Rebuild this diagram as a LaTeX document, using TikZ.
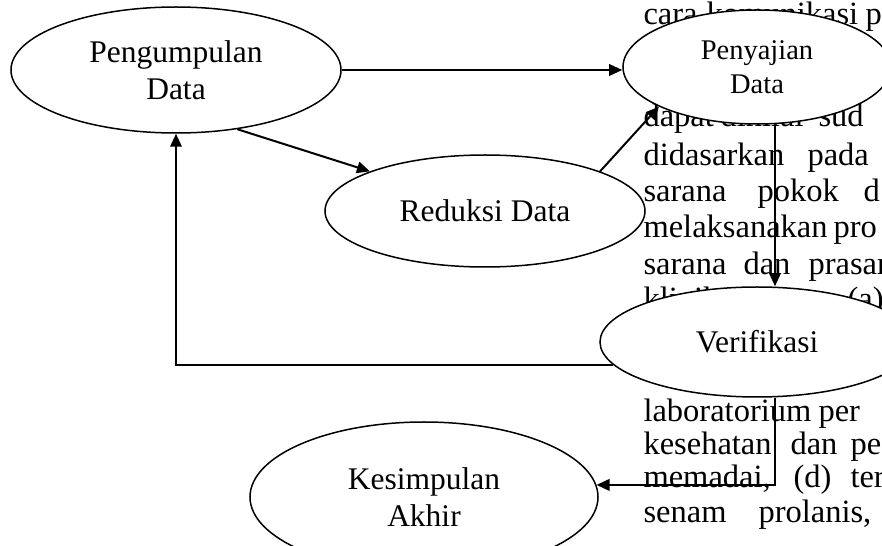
\documentclass[tikz,border=0pt]{standalone}
\usepackage{fontspec}
\setmainfont{Liberation Serif}
\usetikzlibrary{shapes.geometric,arrows.meta}

\begin{document}
\begin{tikzpicture}[x=0.4pt,y=-0.4pt,
        tahap/.style={draw, ellipse, fill=white, line width=0.6pt, inner sep=0pt,
            align=center, font=\fontsize{12.6}{14.6}\selectfont},
        alur/.style={-{Triangle[length=5.2pt,width=4.6pt]}, line width=0.8pt},
        teks/.style={anchor=base west, inner sep=0pt, font=\fontsize{13}{15}\selectfont}]
        \useasboundingbox (0,0) rectangle (882,546);
        \clip (0,0) rectangle (882,546);

        % teks di belakang bagan
        \foreach \x/\y/\w [count=\i] in {643/25/cara, 706/25/komunikasi, 865/25/p,
            643/127/dapat, 720/127/dinilai, 818/127/sud,
            643/166/didasarkan, 807/166/pada,
            643/202/sarana, 757/202/pokok, 863/202/d,
            643/238/melaksanakan, 833/238/pro,
            643/275/sarana, 743/275/dan, 808/275/prasar,
            643/310/klinik, 847/310/(a),
            643/422/laboratorium, 818/422/per,
            643/455/kesehatan, 790/455/dan, 850/455/pe,
            643/488/{memadai,}, 793/488/(d), 850/488/ter,
            643/523/senam, 758/523/{prolanis,}}
            \node[teks] (kata\i) at (\x,\y) {\w};

        \node[tahap, minimum width=132pt, minimum height=50.4pt] (pengumpulan) at (176,70) {Pengumpulan\\Data};
        \node[tahap, minimum width=107.2pt, minimum height=45.6pt,
            font=\fontsize{11.4}{13.6}\selectfont] (penyajian) at (757,67) {Penyajian\\Data};
        \node[tahap, minimum width=128pt, minimum height=44.8pt] (reduksi) at (485,211) {Reduksi Data};
        \node[tahap, minimum width=125.6pt, minimum height=44pt] (verifikasi) at (757,342) {Verifikasi};
        \node[tahap, minimum width=139.2pt, minimum height=60pt] (kesimpulan) at (424,497) {Kesimpulan\\Akhir};

        \draw[alur] (pengumpulan.east) -- (pengumpulan.east -| penyajian.west);
        \draw[alur] (pengumpulan.-44) -- (reduksi.161);
        \draw[alur] (reduksi.19) -- (penyajian.202);
        \draw[alur] ([xshift=7.2pt]penyajian.south) -- ([xshift=7.2pt]verifikasi.north);
        \draw[alur] (verifikasi.189) -| (pengumpulan.south);
        \draw[alur] ([xshift=7.2pt]verifikasi.south) |- (kesimpulan.4);
    \end{tikzpicture}
\end{document}
